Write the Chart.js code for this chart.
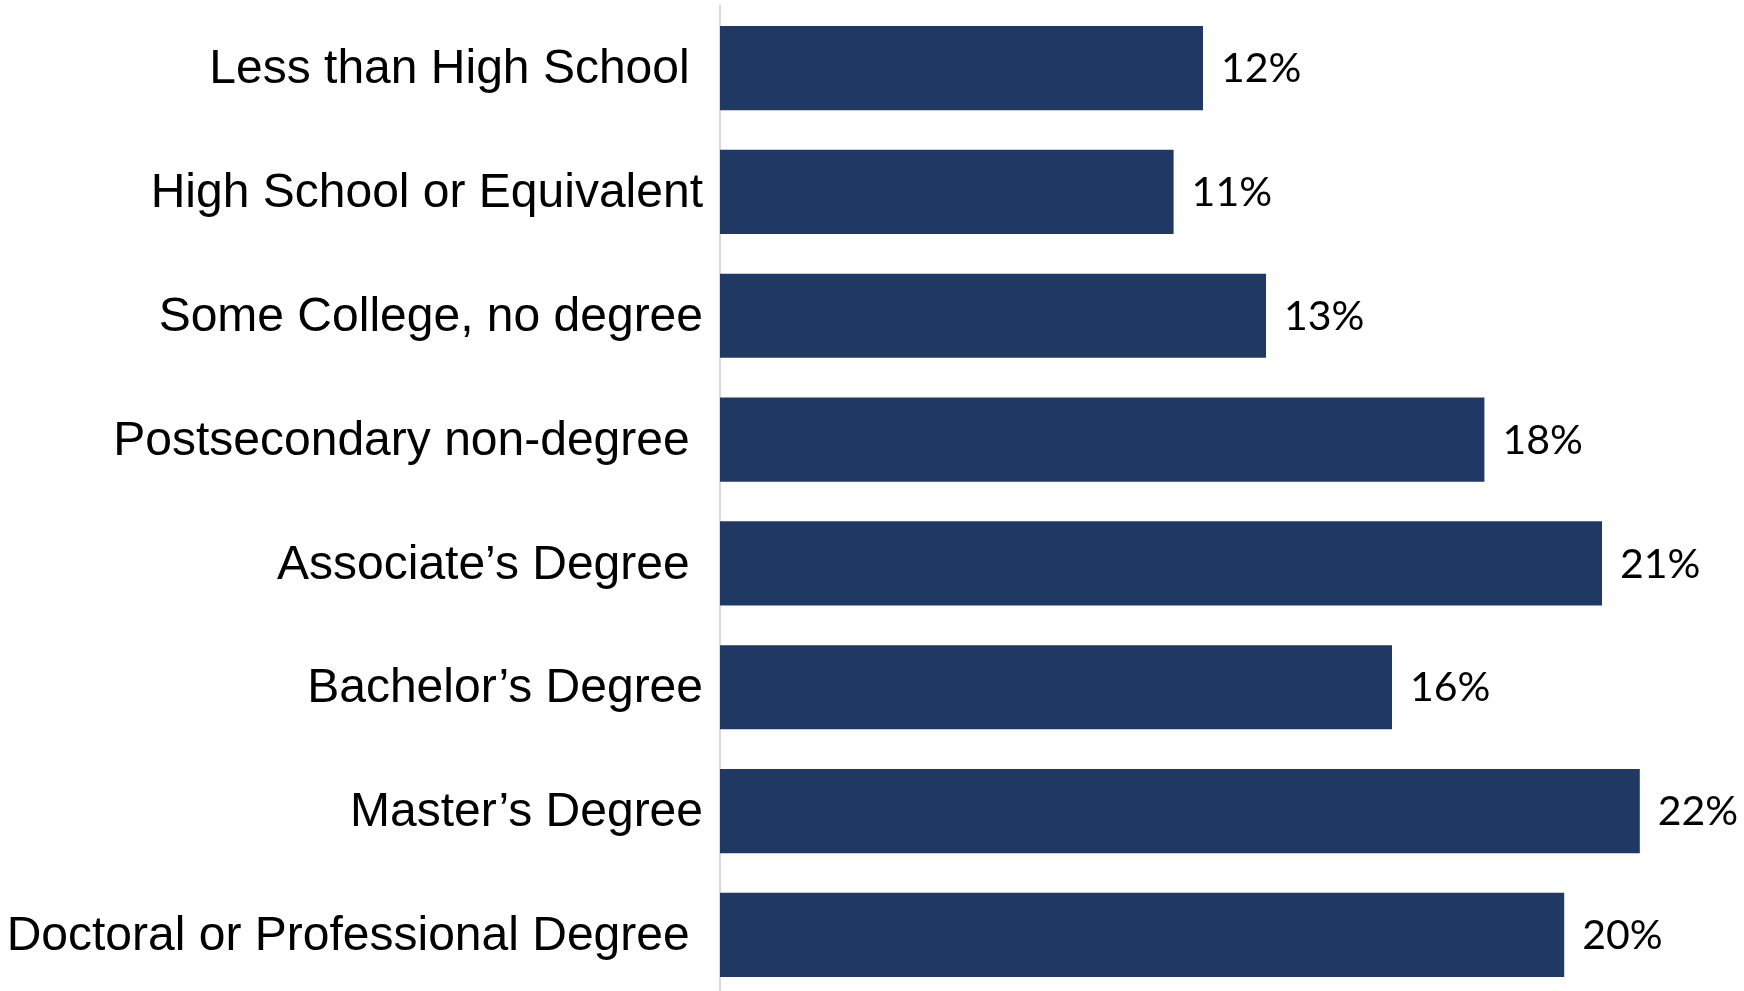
<!DOCTYPE html>
<html>
<head>
<meta charset="utf-8">
<title>Education level chart</title>
<script src="https://cdn.jsdelivr.net/npm/chart.js@4"></script>
<style>
  html, body { margin: 0; padding: 0; background: #fff; overflow: hidden; height: 991px; }
  /* the chart runs slightly past the bottom edge, as in the original */
  canvas { display: block; margin-top: -12px; }
</style>
</head>
<body>
<canvas id="edu-chart" width="1744" height="1027"></canvas>
<script>
// ---------------------------------------------------------------------------
// Data
// ---------------------------------------------------------------------------

const categories = [
  "Less than High School ",
  "High School or Equivalent",
  "Some College, no degree",
  "Postsecondary non-degree ",
  "Associate\u2019s Degree ",
  "Bachelor\u2019s Degree",
  "Master\u2019s Degree",
  "Doctoral or Professional Degree ",
];
const shares = [11.5, 10.8, 13.0, 18.2, 21.0, 16.0, 21.9, 20.1];
const shareLabels = ["12%", "11%", "13%", "18%", "21%", "16%", "22%", "20%"];

const BAR_COLOR = "#203864";

// ---------------------------------------------------------------------------
// Value labels at the end of each bar
// ---------------------------------------------------------------------------

const barLabels = {
  id: "barLabels",
  afterDatasetsDraw(chart) {
    const ctx = chart.ctx;
    const meta = chart.getDatasetMeta(0);
    ctx.save();
    ctx.font = "41px Lato, 'Open Sans', sans-serif";
    ctx.fillStyle = "#000";
    ctx.textAlign = "left";
    ctx.textBaseline = "middle";
    meta.data.forEach((bar, i) => {
      ctx.fillText(shareLabels[i], bar.x + 18, bar.y + 1);
    });
    ctx.restore();
  },
};

// ---------------------------------------------------------------------------
// Chart
// ---------------------------------------------------------------------------

const ctx = document.getElementById("edu-chart").getContext("2d");
new Chart(ctx, {
  type: "bar",
  data: {
    labels: categories,
    datasets: [{
      data: shares,
      backgroundColor: BAR_COLOR,
      borderWidth: 0,
      barPercentage: 0.68,
      categoryPercentage: 1,
    }],
  },
  options: {
    indexAxis: "y",
    responsive: false,
    animation: false,
    devicePixelRatio: 1,
    layout: { padding: { top: 5, right: 16, bottom: 0, left: 0 } },
    plugins: {
      legend: { display: false },
      tooltip: { enabled: false },
    },
    scales: {
      x: { display: false, min: 0, max: 24 },
      y: {
        grid: { display: false, drawTicks: false },
        border: { display: true, color: "#d9d9d9", width: 2 },
        ticks: {
          color: "#000",
          padding: 17,
          labelOffset: 2,
          // tiny line height keeps the labels from padding the chart area
          font: { family: "'Liberation Sans', Arial, sans-serif", size: 48, lineHeight: 0.05 },
        },
        afterFit: (scale) => { scale.width = 720; },
      },
    },
  },
  plugins: [barLabels],
});
</script>
</body>
</html>
